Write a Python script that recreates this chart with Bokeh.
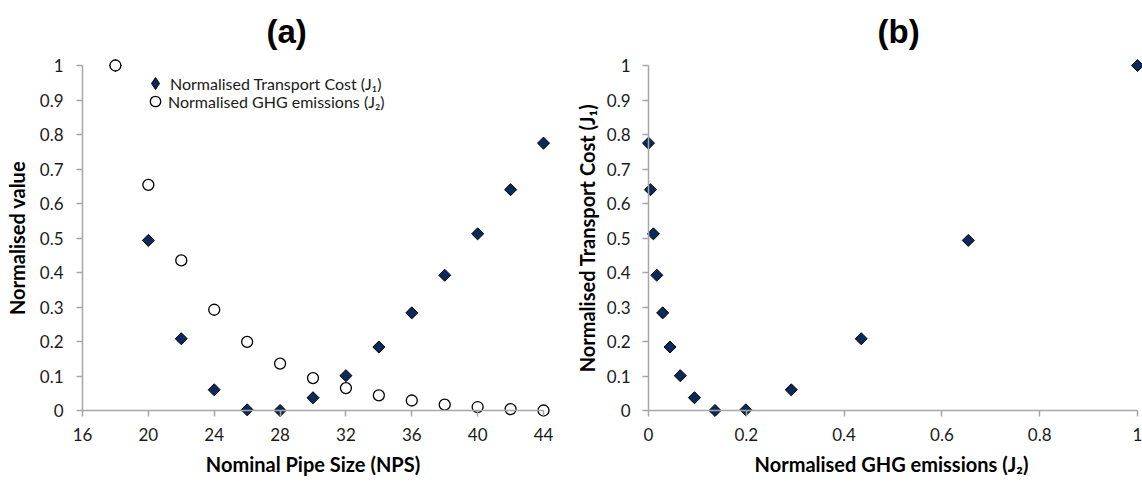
from bokeh.plotting import figure
from bokeh.layouts import row
from bokeh.models import (Range1d, FixedTicker, Legend, LegendItem, Title,
                          CustomJSTickFormatter, LinearAxis, ColumnDataSource)
from bokeh.embed import file_html
from bokeh.resources import INLINE
import numpy as np
import math

# ---- data ----
nps = [18, 20, 22, 24, 26, 28, 30, 32, 34, 36, 38, 40, 42, 44]
cost_j1 = [1.0, 0.493, 0.208, 0.060, 0.002, 0.0, 0.037, 0.101, 0.184, 0.283, 0.392, 0.512, 0.640, 0.775]
ghg_j2 = [1.0, 0.654, 0.435, 0.292, 0.199, 0.136, 0.094, 0.065, 0.044, 0.029, 0.017, 0.010, 0.004, 0.0]

x_ticks_a = [16, 20, 24, 28, 32, 36, 40, 44]
y_ticks = [0, 0.1, 0.2, 0.3, 0.4, 0.5, 0.6, 0.7, 0.8, 0.9, 1]
x_ticks_b = [0, 0.2, 0.4, 0.6, 0.8, 1]

label_j1 = "Normalised Transport Cost (J\u2081)"
label_j2 = "Normalised GHG emissions (J\u2082)"

FONT = "Lato"
AXIS_COLOR = "#A6A6A6"
NAVY = "#0B2A5B"
H = 482
PAD = 8  # px of room around the axes so markers at the edges are not clipped

fmt = CustomJSTickFormatter(code="return String(Math.round(tick*10)/10);")
blank = CustomJSTickFormatter(code="return '';")


def padded(lo, hi, px_len, pad_lo, pad_hi):
    per_px = (hi - lo) / px_len
    return Range1d(lo - pad_lo * per_px, hi + pad_hi * per_px)


def line_axis(ticks, loc, bounds):
    # axis line + ticks drawn at the data origin (inside the padded frame)
    ax = LinearAxis(ticker=FixedTicker(ticks=ticks), formatter=blank,
                    fixed_location=loc, bounds=bounds)
    ax.axis_line_color = AXIS_COLOR
    ax.axis_line_width = 1.5
    ax.major_tick_line_color = AXIS_COLOR
    ax.major_tick_line_width = 1.5
    ax.major_tick_in = 6
    ax.major_tick_out = 0
    ax.minor_tick_line_color = None
    ax.major_label_standoff = 0
    ax.major_label_text_font_size = "0px"
    return ax


def label_axis(ticks, label, standoff, label_standoff):
    # tick labels + axis title at the frame edge, no line
    ax = LinearAxis(ticker=FixedTicker(ticks=ticks), formatter=fmt, axis_label=label)
    ax.axis_line_color = None
    ax.major_tick_line_color = None
    ax.minor_tick_line_color = None
    ax.major_tick_in = 0
    ax.major_tick_out = 0
    ax.major_label_standoff = standoff
    ax.major_label_text_font = FONT
    ax.major_label_text_font_size = "17px"
    ax.major_label_text_color = "#1a1a1a"
    ax.axis_label_standoff = label_standoff
    ax.axis_label_text_font = FONT
    ax.axis_label_text_font_size = "20px"
    ax.axis_label_text_font_style = "bold"
    ax.axis_label_text_color = "#000000"
    return ax


def make_panel(win_x, width, ax_l, ax_r, ax_t, ax_b, xlo, xhi, pad_r,
               xticks, xlabel, ylabel, title, title_x, ylab_standoff, ytitle_standoff):
    # ax_* are window pixel positions of the axis ends
    fl = ax_l - PAD - win_x
    fr = ax_r + pad_r - win_x
    ft = ax_t - PAD
    fb = ax_b + PAD
    p = figure(width=width, height=H, output_backend="svg", toolbar_location=None,
               x_range=padded(xlo, xhi, ax_r - ax_l, PAD, pad_r),
               y_range=padded(0, 1, ax_b - ax_t, PAD, PAD),
               x_axis_type=None, y_axis_type=None,
               min_border_left=fl, min_border_right=width - fr,
               min_border_top=ft, min_border_bottom=H - fb)
    t = Title(text=title, align="left", offset=title_x - ax_l + PAD,
              text_font="Liberation Sans", text_font_size="33px",
              text_font_style="bold", text_color="#000000", standoff=15)
    p.add_layout(t, "above")
    p.add_layout(line_axis(xticks, 0, (xlo, xhi)), "above")
    p.add_layout(line_axis(y_ticks, xlo, (0, 1)), "right")
    p.add_layout(label_axis(xticks, xlabel, 9, 8), "below")
    p.add_layout(label_axis(y_ticks, ylabel, ylab_standoff, ytitle_standoff), "left")
    p.xgrid.grid_line_color = None
    p.ygrid.grid_line_color = None
    p.outline_line_color = None
    return p


# ---- panel (a) ----
pa = make_panel(0, 570, 82, 543, 65, 410, 16, 44, PAD, x_ticks_a,
                "Nominal Pipe Size (NPS)", "Normalised value", "(a)", 266, 11, 8)

pa.scatter(nps, cost_j1, marker="square", size=8.5, angle=math.pi / 4,
           fill_color=NAVY, line_color="#000000", line_width=1)
pa.scatter(nps, ghg_j2, marker="circle", size=11,
           fill_color="#FFFFFF", line_color="#000000", line_width=1.3)

# legend-only renderers (a single NaN point draws nothing in the plot)
nan_src = ColumnDataSource(dict(x=np.array([np.nan]), y=np.array([np.nan])))
leg1 = pa.scatter("x", "y", source=nan_src, marker="diamond",
                  fill_color=NAVY, line_color="#000000", line_width=1)
leg2 = pa.scatter("x", "y", source=nan_src, marker="circle",
                  fill_color="#FFFFFF", line_color="#000000", line_width=1.3)

frame_bottom_a = 410 + PAD
for item_label, rend, row_cy, gsize in ((label_j1, leg1, 83, 30), (label_j2, leg2, 101, 26)):
    lg = Legend(items=[LegendItem(label=item_label, renderers=[rend])],
                location=(155 - gsize // 2 - (82 - PAD), frame_bottom_a - (row_cy + gsize // 2)),
                padding=0, margin=0, spacing=0,
                glyph_width=gsize, glyph_height=gsize, label_height=18,
                label_standoff=13 - gsize // 2 - 1,
                label_text_font=FONT, label_text_font_size="16px",
                label_text_color="#1a1a1a",
                background_fill_alpha=0, border_line_color=None)
    pa.add_layout(lg, "center")

# ---- panel (b) ----
pb = make_panel(570, 572, 648, 1137, 65, 410, 0, 1, 5, x_ticks_b,
                label_j2, label_j1, "(b)", 877, 10, 5)

pb.scatter(ghg_j2, cost_j1, marker="square", size=8.5, angle=math.pi / 4,
           fill_color=NAVY, line_color="#000000", line_width=1)

layout = row(pa, pb)
open("out.html", "w").write(file_html(layout, INLINE))
